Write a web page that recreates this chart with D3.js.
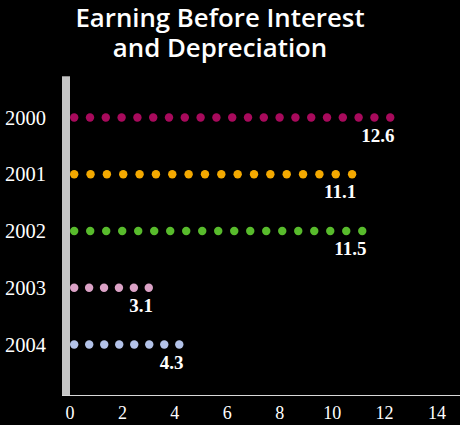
<!DOCTYPE html>
<html><head><meta charset="utf-8">
<script src="https://cdn.jsdelivr.net/npm/d3@7"></script>
<style>html,body{margin:0;padding:0;background:#000;}svg{display:block;}</style>
</head><body>
<script>
const years = ["2000","2001","2002","2003","2004"];
const values = [12.6, 11.1, 11.5, 3.1, 4.3];
const colors = ["#a80a5c","#f4a900","#58bb2c","#dba2c6","#b3c2e8"];
const xTicks = [0,2,4,6,8,10,12,14];
const titleLines = ["Earning Before Interest","and Depreciation"];

const W=460,H=425;
const svg=d3.select("body").append("svg").attr("width",W).attr("height",H);
svg.append("rect").attr("width",W).attr("height",H).attr("fill","#000");

const x=d3.scaleLinear().domain([0,14]).range([70,437]);
const y=d3.scalePoint().domain(years).range([117.5,344.5]);

// title
svg.append("g").selectAll("text").data(titleLines).join("text")
  .attr("x",220).attr("y",(d,i)=>26.5+i*30).attr("text-anchor","middle")
  .attr("fill","#fff").attr("font-family","'Open Sans',sans-serif").attr("font-size",25.8)
  .attr("font-weight",600)
  .text(d=>d);

// gray bar
svg.append("rect").attr("x",62).attr("y",76).attr("width",8).attr("height",320).attr("fill","#c4c4c4");
svg.append("line").attr("x1",62).attr("x2",70).attr("y1",76.5).attr("y2",76.5).attr("stroke","#8a8a8a");
// x axis line
svg.append("line").attr("x1",62).attr("x2",460).attr("y1",395.5).attr("y2",395.5).attr("stroke","#d8d8d8").attr("stroke-width",1.2);

// ticks
svg.append("g").selectAll("text").data(xTicks).join("text")
  .attr("x",d=>x(d)).attr("y",419).attr("text-anchor","middle")
  .attr("fill","#fff").attr("font-family","'Liberation Serif',serif").attr("font-size",18)
  .text(d=>d);

// year labels
svg.append("g").selectAll("text").data(years).join("text")
  .attr("x",5).attr("y",d=>y(d)+7).attr("fill","#fff")
  .attr("font-family","'Liberation Serif',serif").attr("font-size",20.5)
  .text(d=>d);

// dots
const r=4.2;
years.forEach((yr,i)=>{
  const start=x(0)+r;
  const end=x(values[i])-0.8*values[i];
  const n=Math.max(1,Math.round((end-start)/16));
  const step=(end-start)/n;
  const pts=d3.range(n+1).map(k=>start+k*step);
  svg.append("g").selectAll("circle").data(pts).join("circle")
    .attr("cx",d=>d).attr("cy",y(yr)).attr("r",r).attr("fill",colors[i]);
  svg.append("text").attr("x",end+r).attr("y",y(yr)+24).attr("text-anchor","end")
    .attr("fill","#fff").attr("font-family","'Liberation Serif',serif").attr("font-weight","bold")
    .attr("font-size",19).text(values[i]);
});
</script>
</body></html>
